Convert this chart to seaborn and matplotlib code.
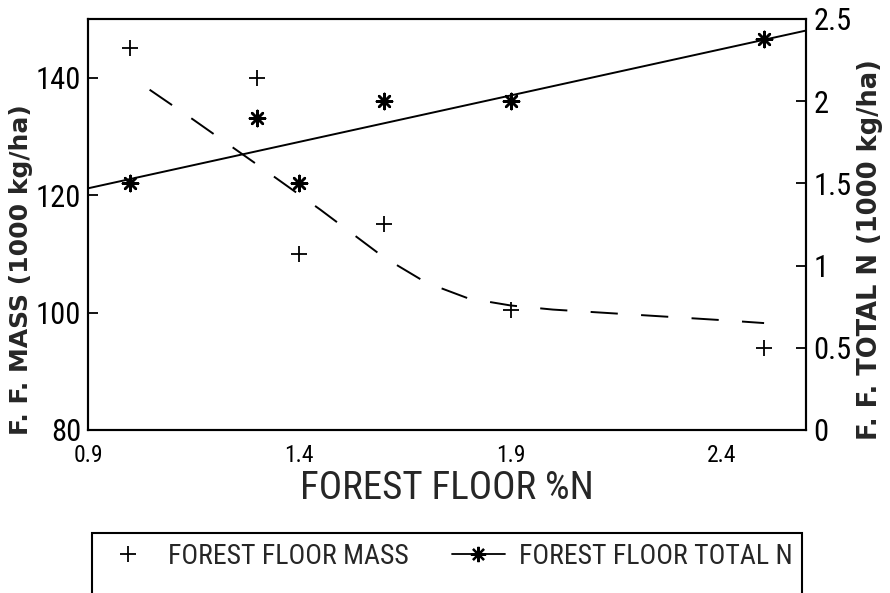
"""Forest floor mass and total N vs forest floor %N (dual axis)."""

import matplotlib

matplotlib.use("Agg")
import matplotlib.pyplot as plt
import pandas as pd
import seaborn as sns
from matplotlib.patches import Rectangle

# observed points
pct_n = [1.0, 1.3, 1.4, 1.6, 1.9, 2.5]
ff_mass = [145, 140, 110, 115, 100.5, 94]
ff_total_n = [1.5, 1.9, 1.5, 2.0, 2.0, 2.38]

# fitted curves
mass_fit_x = [1.0, 1.15, 1.3, 1.45, 1.6, 1.7, 1.8, 1.9, 2.0, 2.2, 2.4, 2.5]
mass_fit_y = [140.2, 132.8, 125.2, 117.5, 109.4, 105.1, 102.4, 101.2, 100.5, 99.6, 98.7, 98.2]
n_fit_x = [0.9, 2.6]
n_fit_y = [1.47, 2.43]

x_ticks = [0.9, 1.4, 1.9, 2.4]
left_ticks = [80, 100, 120, 140]
right_ticks = [0, 0.5, 1, 1.5, 2, 2.5]
right_ticklabels = ["0", "0.5", "1", "1.5", "2", "2.5"]

sns.set_style("white")
NARROW = ["Roboto Condensed", "Liberation Sans Narrow", "Roboto", "DejaVu Sans"]
plt.rcParams["font.family"] = NARROW
ASTER = (8, 2, 0)

pts = pd.DataFrame({"pct_n": pct_n, "mass": ff_mass, "total_n": ff_total_n})
mfit = pd.DataFrame({"x": mass_fit_x, "y": mass_fit_y})
nfit = pd.DataFrame({"x": n_fit_x, "y": n_fit_y})

fig = plt.figure(figsize=(8.9, 5.93), dpi=100)
ax = fig.add_axes([0.099, 0.275, 0.807, 0.693])
ax2 = ax.twinx()

sns.scatterplot(data=pts, x="pct_n", y="mass", ax=ax, marker="+", s=130,
                color="black", linewidth=1.3, legend=False)
sns.lineplot(data=mfit, x="x", y="y", ax=ax, color="black", linewidth=1.4,
             legend=False)
# starts on a gap, like the original
ax.lines[-1].set_linestyle((14, (14, 12)))

sns.lineplot(data=nfit, x="x", y="y", ax=ax2, color="black", linewidth=1.4,
             legend=False)
sns.scatterplot(data=pts, x="pct_n", y="total_n", ax=ax2, marker=ASTER, s=120,
                color="black", edgecolor="black", linewidth=1.8, legend=False)

ax.set_xlim(0.9, 2.6)
ax.set_ylim(80, 150)
ax2.set_ylim(0, 2.5)
ax.set_xticks(x_ticks)
ax.set_xticklabels([f"{v:.1f}" for v in x_ticks])
ax.set_yticks(left_ticks)
ax2.set_yticks(right_ticks)
ax2.set_yticklabels(right_ticklabels)

for a in (ax, ax2):
    for sp in a.spines.values():
        sp.set_visible(True)
        sp.set_linewidth(1.5)
        sp.set_color("black")
    a.tick_params(direction="in", length=7, width=1.3, colors="black")
    a.tick_params(axis="y", labelsize=22, pad=5)
ax.tick_params(axis="x", labelsize=17, pad=10)

ax.set_xlabel("FOREST FLOOR %N", fontsize=28)
ax.xaxis.set_label_coords(0.5, -0.143)
ax.xaxis.label.set_va("center")

ax.set_ylabel("F. F. MASS (1000 kg/ha)", fontsize=18, fontweight="bold",
              family="DejaVu Sans")
ax.yaxis.set_label_coords(-0.093, 0.39)
ax.yaxis.label.set_va("center")
ax2.set_ylabel("F. F. TOTAL N (1000 kg/ha)", fontsize=18.5, fontweight="bold",
               family="DejaVu Sans")
ax2.yaxis.set_label_coords(1.089, 0.44)
ax2.yaxis.label.set_va("center")

# legend box runs off the bottom edge in the original
fig.add_artist(Rectangle((92 / 890, -0.05), 710 / 890, 60 / 593 + 0.05,
                         transform=fig.transFigure, fill=False,
                         edgecolor="black", linewidth=1.5))
h1 = plt.Line2D([], [], color="black", marker="+", markersize=11,
                markeredgewidth=1.3, linestyle="none")
h2 = plt.Line2D([], [], color="black", marker=ASTER, markersize=11,
                markeredgewidth=1.6, linewidth=1.3)
fig.legend([h1, h2], ["FOREST FLOOR MASS", "FOREST FLOOR TOTAL N"],
           loc="upper left", bbox_to_anchor=(0.103, 0.101, 0.798, 0.0),
           mode="expand", ncol=2, frameon=False,
           borderaxespad=0, borderpad=0.35, handlelength=1.9,
           handletextpad=0.5, numpoints=1, prop={"size": 20})

fig.savefig("out.png", dpi=100)
